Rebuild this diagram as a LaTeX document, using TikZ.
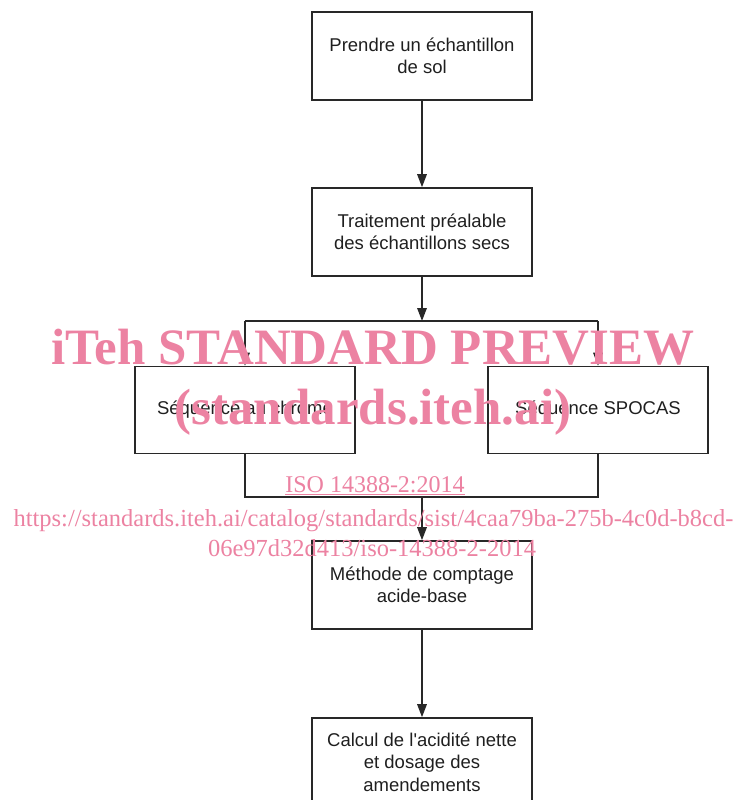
\documentclass[tikz,border=0pt]{standalone}
\usepackage{fontspec}
\setmainfont{Liberation Sans}[Ligatures=TeXOff]
\newfontfamily\wmfont{Liberation Serif}
\usetikzlibrary{arrows.meta}
\definecolor{wmpink}{RGB}{236,130,162}
\definecolor{linegray}{RGB}{40,40,40}
\tikzset{
  box/.style={draw=linegray, line width=1.6pt, rectangle, minimum width=220pt, minimum height=88pt, align=center, inner sep=0pt,
    font=\fontsize{18.5}{22.5}\selectfont, text=black!88},
  conn/.style={draw=linegray, line width=1.6pt},
  arr/.style={conn, -{Triangle[length=13pt,width=9.5pt]}},
  wm/.style={text=wmpink, anchor=base, inner sep=0pt}
}
\begin{document}
\begin{tikzpicture}[x=1pt,y=-1pt]
\useasboundingbox (0,0) rectangle (735,800);
\clip (0,0) rectangle (735,800);
\node[box] (b1) at (422,56) {Prendre un échantillon\\de sol};
\node[box] (b2) at (422,232) {Traitement préalable\\des échantillons secs};
\node[box, minimum height=87pt] (bl) at (245,410) {Séquence au chrome};
\node[box, minimum height=87pt] (br) at (598,410) {Séquence SPOCAS};
\node[box] (b4) at (422,585) {Méthode de comptage\\acide-base};
\node[box] (b5) at (422,762) {Calcul de l'acidité nette\\et dosage des\\amendements};
\coordinate (tl) at (245,321);
\coordinate (tr) at (598,321);
\coordinate (tm) at (422,321);
\coordinate (bbl) at (245,497);
\coordinate (bbr) at (598,497);
\coordinate (bm) at (422,497);
\draw[arr] (b1) -- (b2);
\draw[arr] (b2.south) -- (tm);
\draw[conn] (tl) -- (tr);
\draw[arr] (tl) -- (bl.north);
\draw[arr] (tr) -- (br.north);
\draw[conn] (bl.south) -- (bbl) -- (bbr) -- (br.south);
\draw[arr] (bm) -- (b4.north);
\draw[arr] (b4) -- (b5);
% watermark
\node[wm, font=\wmfont\bfseries\fontsize{51}{51}\selectfont] (w1) at (373,364) {iTeh STANDARD PREVIEW};
\node[wm, font=\wmfont\bfseries\fontsize{51}{51}\selectfont] (w2) at (373,424) {(standards.iteh.ai)};
\node[wm, font=\wmfont\fontsize{24}{24}\selectfont] (w3) at (375,492) {ISO 14388-2:2014};
\draw[wmpink, line width=1pt] ([yshift=-2pt]w3.base west) -- ([yshift=-2pt]w3.base east);
\node[wm, font=\wmfont\fontsize{24.5}{24.5}\selectfont] (w4) at (373.5,526) {https://standards.iteh.ai/catalog/standards/sist/4caa79ba-275b-4c0d-b8cd-};
\node[wm, font=\wmfont\fontsize{24.5}{24.5}\selectfont] (w5) at (372,556) {06e97d32d413/iso-14388-2-2014};
\end{tikzpicture}
\end{document}
